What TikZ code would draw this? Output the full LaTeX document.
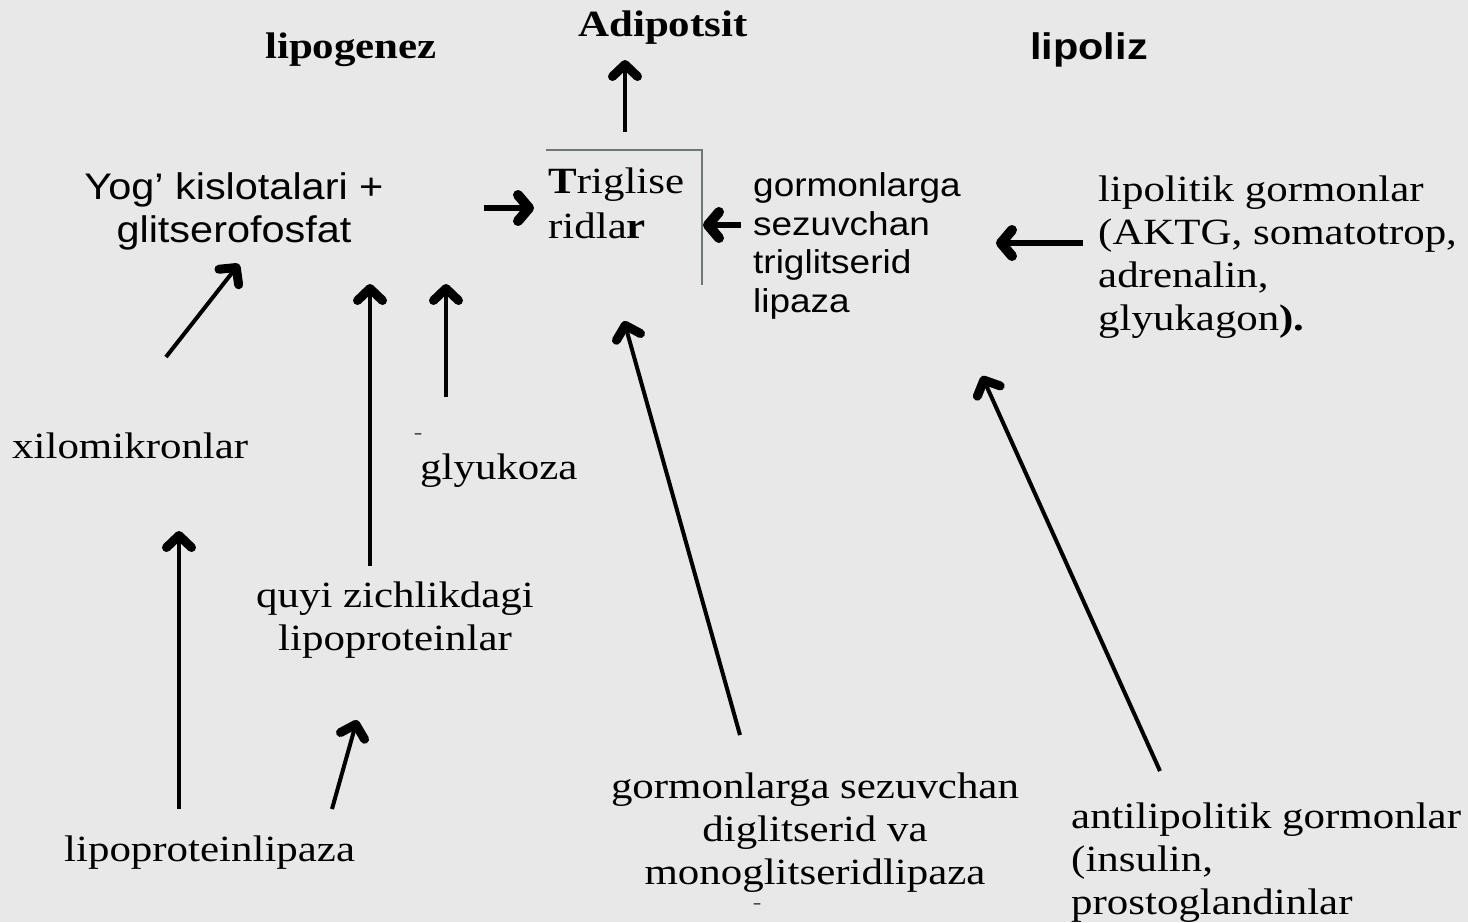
\documentclass[tikz,border=0pt]{standalone}
\usepackage{fontspec}
\setmainfont{Liberation Serif}[FakeStretch=1.16]
\setsansfont{Liberation Sans}[FakeStretch=1.12]
\usetikzlibrary{arrows.meta}
\definecolor{bg}{HTML}{E8E8E8}
\definecolor{boxgray}{HTML}{6E7878}
\begin{document}
\begin{tikzpicture}[x=1pt,y=-1pt,
  serif/.style={font=\rmfamily\fontsize{37}{43}\selectfont, inner sep=0pt, text=black},
  sans/.style={font=\sffamily\fontsize{33}{38.5}\selectfont, inner sep=0pt, text=black},
  head/.style={font=\rmfamily\bfseries\fontsize{37}{44}\selectfont, inner sep=0pt},
  arr/.style={line width=4pt, -{Straight Barb[length=12pt 0 0,width=25pt 0 0,line width=9pt 0 0,round]}},
  harr/.style={line width=5.5pt, -{Straight Barb[length=11pt 0 0,width=26pt 0 0,line width=10pt 0 0,round]}},
  dash mark/.style={font=\rmfamily\fontsize{22}{22}\selectfont, inner sep=0pt, text=black!70}
]
\useasboundingbox[fill=bg] (0,0) rectangle (1468,922);

% headers
\node[head] (lipogenez) at (351,50) {lipogenez};
\node[head] (adipotsit) at (663,28) {Adipotsit};
\node[font=\sffamily\bfseries\fontsize{37}{42}\selectfont, inner sep=0pt] (lipoliz) at (1089,50) {lipoliz};

% texts
\node[sans, font=\sffamily\fontsize{37}{43}\selectfont, align=center] (yog) at (234,211) {Yog' kislotalari +\\glitserofosfat};
\node[serif, font=\rmfamily\fontsize{37}{45}\selectfont, align=left, anchor=west] (trig) at (548,203) {\textbf{T}riglise\\ridla\textbf{r}};
\node[sans, align=left, anchor=west] (gorm) at (753,246) {gormonlarga\\sezuvchan\\triglitserid\\lipaza};
\node[serif, align=left, anchor=west] (lipol) at (1098,257) {lipolitik gormonlar\\(AKTG, somatotrop,\\adrenalin,\\glyukagon\textbf{).}};
\node[serif, anchor=west] (xilo) at (12,446) {xilomikronlar};
\node[serif, anchor=west] (glyu) at (420,471) {glyukoza};
\node[dash mark] (dash1) at (418,436) {-};
\node[serif, align=center] (quyi) at (395,620) {quyi zichlikdagi\\lipoproteinlar};
\node[serif, anchor=west] (lpl) at (64,853) {lipoproteinlipaza};
\node[serif, align=center] (gsd) at (815,833) {gormonlarga sezuvchan\\diglitserid va\\monoglitseridlipaza};
\node[dash mark] (dash2) at (757,906) {-};
\node[serif, align=left, anchor=west] (anti) at (1071,863) {antilipolitik gormonlar\\(insulin,\\prostoglandinlar};

% triglyceride box lines
\coordinate (bTL) at (546,150);
\coordinate (bTR) at (702,150);
\coordinate (bBR) at (702,285);
\draw[boxgray, line width=2pt] (bTL) -- (bTR) -- (bBR);

% arrow endpoints
\coordinate (a1s) at (625,132); \coordinate (a1e) at (625,60);
\coordinate (a2s) at (484,208); \coordinate (a2e) at (534,208);
\coordinate (a3s) at (741,225); \coordinate (a3e) at (703,225);
\coordinate (a4s) at (1083,243); \coordinate (a4e) at (996,243);
\coordinate (a5s) at (166,357); \coordinate (a5e) at (239,264);
\coordinate (a6s) at (370,566); \coordinate (a6e) at (370,284);
\coordinate (a7s) at (446,397); \coordinate (a7e) at (446,284);
\coordinate (a8s) at (179,809); \coordinate (a8e) at (179,531);
\coordinate (a9s) at (332,809); \coordinate (a9e) at (357,720);
\coordinate (a10s) at (740,735); \coordinate (a10e) at (624,321);
\coordinate (a11s) at (1160,771); \coordinate (a11e) at (982,376);

\draw[arr] (a1s) -- (a1e);
\draw[harr] (a2s) -- (a2e);
\draw[harr] (a3s) -- (a3e);
\draw[harr] (a4s) -- (a4e);
\draw[arr] (a5s) -- (a5e);
\draw[arr] (a6s) -- (a6e);
\draw[arr] (a7s) -- (a7e);
\draw[arr] (a8s) -- (a8e);
\draw[arr] (a9s) -- (a9e);
\draw[arr] (a10s) -- (a10e);
\draw[arr] (a11s) -- (a11e);
\end{tikzpicture}
\end{document}
